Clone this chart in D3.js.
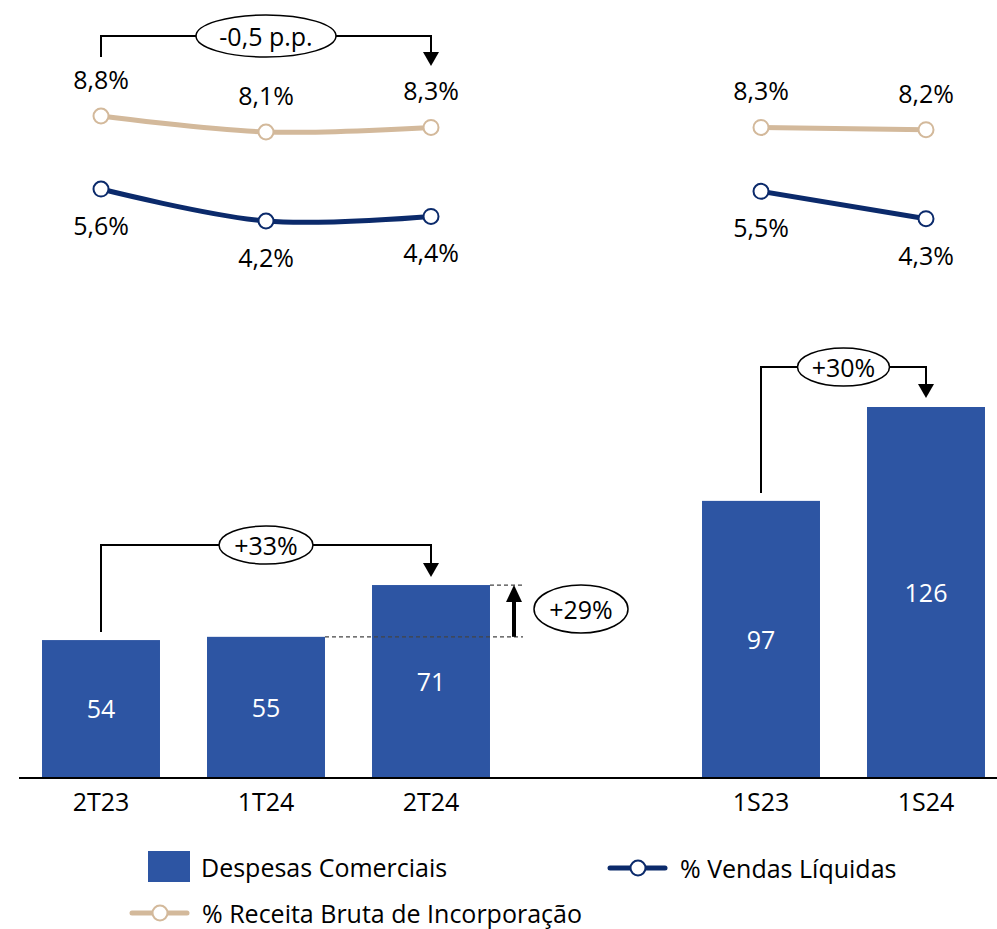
<!DOCTYPE html>
<html><head><meta charset="utf-8">
<script src="https://cdn.jsdelivr.net/npm/d3@7"></script>
<style>body{margin:0;background:#fff}svg{display:block}text{font-family:"Open Sans",Lato,sans-serif}</style>
</head><body>
<svg id="c" width="997" height="929"></svg>
<script>
const categories = ["2T23","1T24","2T24","","1S23","1S24"];
const despesas = [54,55,71,null,97,126];
const pctVendas = [5.6,4.2,4.4,null,5.5,4.3];
const pctReceita = [8.8,8.1,8.3,null,8.3,8.2];
const legendLabels = ["Despesas Comerciais","% Vendas Líquidas","% Receita Bruta de Incorporação"];

const svg = d3.select("#c");
const barColor = "#2D55A3", navy = "#0B2A6B", beige = "#D3B99B";
const fs = 25;
const FF = "Open Sans";

const x = d3.scaleBand().domain(categories).range([18.5,1008.5]).paddingInner(0.285).paddingOuter(0.1425);
const y = d3.scaleLinear().domain([11.7,126]).range([777,407]);
const yl = d3.scaleLinear().domain([4.2,8.8]).range([221,116]);
const cx = c => x(c) + x.bandwidth()/2;

// bars
const bars = categories.map((c,i)=>({c,v:despesas[i]})).filter(d=>d.v!=null);
svg.selectAll("rect.bar").data(bars).join("rect").attr("class","bar")
  .attr("x",d=>x(d.c)).attr("width",x.bandwidth())
  .attr("y",d=>y(d.v)).attr("height",d=>777-y(d.v)).attr("fill",barColor);
svg.selectAll("text.bl").data(bars).join("text").attr("class","bl")
  .attr("x",d=>cx(d.c)).attr("y",d=>(y(d.v)+777)/2+1).attr("dy","0.35em")
  .attr("text-anchor","middle").attr("fill","#fff").attr("font-size",fs).text(d=>d.v);

// axis
const ax = svg.append("g").attr("transform","translate(0,778)")
  .call(d3.axisBottom(x).tickSize(0).tickPadding(15).tickFormat(d=>d));
ax.select(".domain").attr("d","M19,0H997").attr("stroke","#000").attr("stroke-width",2);
ax.selectAll("text").attr("font-size",fs).attr("fill","#000").attr("font-family",FF);

// lines
function series(vals,color,above){
  const segs=[[0,1,2],[4,5]];
  const line=d3.line().x(i=>cx(categories[i])).y(i=>yl(vals[i])).curve(d3.curveCatmullRom.alpha(0.5));
  segs.forEach(s=>svg.append("path").attr("d",line(s)).attr("fill","none").attr("stroke",color).attr("stroke-width",5).attr("stroke-linecap","round"));
  const pts=vals.map((v,i)=>({v,i})).filter(d=>d.v!=null);
  svg.selectAll(null).data(pts).join("circle").attr("cx",d=>cx(categories[d.i])).attr("cy",d=>yl(d.v))
    .attr("r",7.5).attr("fill","#fff").attr("stroke",color).attr("stroke-width",2);
  svg.selectAll(null).data(pts).join("text").attr("x",d=>cx(categories[d.i]))
    .attr("y",d=>yl(d.v)+(above?-27:46)).attr("text-anchor","middle").attr("font-size",fs).attr("fill","#000")
    .text(d=>d3.format(".1f")(d.v).replace(".",",")+"%");
}
series(pctReceita,beige,true);
series(pctVendas,navy,false);

// annotations
function bracket(x1,x2,yTop,y1,y2tip,label,rx,ry){
  svg.append("path").attr("d",`M${x1},${y1}V${yTop}H${x2}V${y2tip-12}`).attr("fill","none").attr("stroke","#000").attr("stroke-width",2);
  svg.append("path").attr("d",`M${x2-8},${y2tip-14}L${x2+8},${y2tip-14}L${x2},${y2tip}Z`).attr("fill","#000");
  const mx=(x1+x2)/2;
  svg.append("ellipse").attr("cx",mx).attr("cy",yTop).attr("rx",rx).attr("ry",ry).attr("fill","#fff").attr("stroke","#000").attr("stroke-width",1.5);
  svg.append("text").attr("x",mx).attr("y",yTop+1).attr("dy","0.35em").attr("text-anchor","middle").attr("font-size",fs).text(label);
}
bracket(cx("2T23"),cx("2T24"),36,57,66,"-0,5 p.p.",70,21);
bracket(cx("2T23"),cx("2T24"),545,y(despesas[0])-8,y(despesas[2])-8,"+33%",47,19);
bracket(cx("1S23"),cx("1S24"),367,y(despesas[4])-8,y(despesas[5])-9,"+30%",46,19);

// +29%
const yA=y(despesas[2]), yB=y(despesas[1]);
svg.append("line").attr("x1",x("2T24")+x.bandwidth()).attr("x2",523).attr("y1",yA).attr("y2",yA).attr("stroke","#444").attr("stroke-dasharray","4,3").attr("stroke-width",1.3);
svg.append("line").attr("x1",x("1T24")+x.bandwidth()).attr("x2",523).attr("y1",yB).attr("y2",yB).attr("stroke","#444").attr("stroke-dasharray","4,3").attr("stroke-width",1.3);
svg.append("line").attr("x1",514).attr("x2",514).attr("y1",yB).attr("y2",yA+14).attr("stroke","#000").attr("stroke-width",4);
svg.append("path").attr("d",`M${514-8},${yA+17}L${514+8},${yA+17}L514,${yA}Z`).attr("fill","#000");
svg.append("ellipse").attr("cx",581).attr("cy",609).attr("rx",47).attr("ry",24).attr("fill","#fff").attr("stroke","#000").attr("stroke-width",1.5);
svg.append("text").attr("x",581).attr("y",610).attr("dy","0.35em").attr("text-anchor","middle").attr("font-size",fs).text("+29%");

// legend
svg.append("rect").attr("x",148).attr("y",851).attr("width",42).attr("height",31).attr("fill",barColor);
svg.append("text").attr("x",201).attr("y",868).attr("dy","0.35em").attr("font-size",fs).text(legendLabels[0]);
function legLine(x0,yy,color,label){
  svg.append("line").attr("x1",x0).attr("x2",x0+55).attr("y1",yy).attr("y2",yy).attr("stroke",color).attr("stroke-width",5).attr("stroke-linecap","round");
  svg.append("circle").attr("cx",x0+28).attr("cy",yy).attr("r",7.5).attr("fill","#fff").attr("stroke",color).attr("stroke-width",2);
  svg.append("text").attr("x",x0+70).attr("y",yy+1).attr("dy","0.35em").attr("font-size",fs).text(label);
}
legLine(610,868,navy,legendLabels[1]);
legLine(132,913,beige,legendLabels[2]);
</script>
</body></html>
